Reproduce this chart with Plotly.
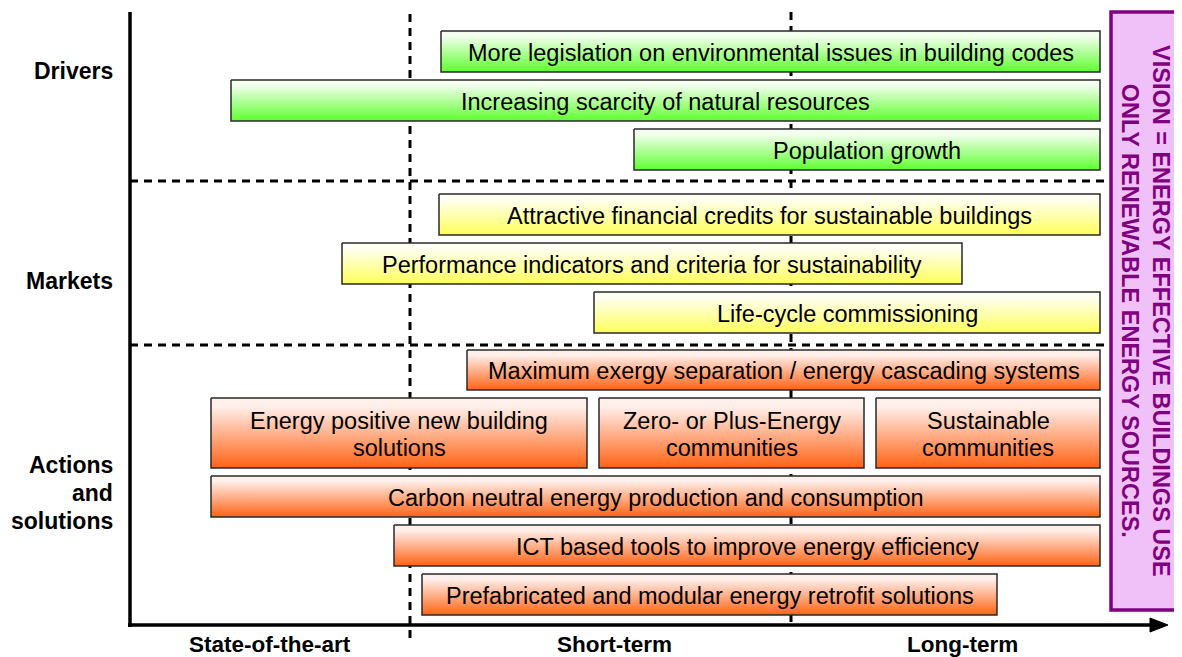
import plotly.graph_objects as go

# ---- data (timeline positions on a 0..1182 scale, rows on a 0..657 scale) ----
bar_labels = [
    "More legislation on environmental issues in building codes",
    "Increasing scarcity of natural resources",
    "Population growth",
    "Attractive financial credits for sustainable buildings",
    "Performance indicators and criteria for sustainability",
    "Life-cycle commissioning",
    "Maximum exergy separation / energy cascading systems",
    "Energy positive new building<br>solutions",
    "Zero- or Plus-Energy<br>communities",
    "Sustainable<br>communities",
    "Carbon neutral energy production and consumption",
    "ICT based tools to improve energy efficiency",
    "Prefabricated and modular energy retrofit solutions",
]
bar_start = [441, 231, 634, 439, 342, 594, 467, 211, 599, 876, 211, 394, 422]
bar_end = [1100, 1100, 1100, 1100, 962, 1100, 1100, 587, 864, 1100, 1100, 1100, 997]
bar_top = [31, 80, 129, 194, 243, 292, 350, 398, 398, 398, 476, 525, 574]
bar_bottom = [72, 121, 170, 235, 284, 333, 390, 468, 468, 468, 517, 566, 615]
bar_group = ["Drivers"] * 3 + ["Markets"] * 3 + ["Actions"] * 7

group_colors = {
    "Drivers": ("#F4FFF0", "#5EFF2E"),
    "Markets": ("#FFFFF4", "#FFFF5A"),
    "Actions": ("#FFF0EC", "#FF6214"),
}

row_labels = ["Drivers", "Markets", "Actions<br>and<br>solutions"]
row_label_y = [71, 281, 493]

phase_labels = ["State-of-the-art", "Short-term", "Long-term"]
phase_label_x = [270, 614, 962]
phase_dividers = [410, 791]
section_dividers = [181, 345]

vision_text = "VISION = ENERGY EFFECTIVE BUILDINGS USE<br>ONLY RENEWABLE ENERGY SOURCES."

FONT = "Liberation Sans, Arial, Helvetica, sans-serif"
BAR_LINE_GAP = 27
LABEL_LINE_GAP = 28

fig = go.Figure()

shapes = []
# phase dividers (vertical dashed)
shapes.append(dict(type="line", xref="x", yref="y", x0=phase_dividers[0], x1=phase_dividers[0],
                   y0=14, y1=641, line=dict(color="black", width=3, dash="8px,6px"), layer="below"))
shapes.append(dict(type="line", xref="x", yref="y", x0=phase_dividers[1], x1=phase_dividers[1],
                   y0=12, y1=625, line=dict(color="black", width=3, dash="8px,6px"), layer="below"))
# section dividers (horizontal dashed)
for yv in section_dividers:
    shapes.append(dict(type="line", xref="x", yref="y", x0=130, x1=1108, y0=yv, y1=yv,
                       line=dict(color="black", width=3, dash="8px,6px"), layer="below"))

# bars with vertical gradient
for lab, x0, x1, y0, y1, g in zip(bar_labels, bar_start, bar_end, bar_top, bar_bottom, bar_group):
    top_c, bot_c = group_colors[g]
    fig.add_trace(go.Scatter(
        x=[x0, x1, x1, x0, x0], y=[y0, y0, y1, y1, y0],
        mode="lines", fill="toself",
        fillgradient=dict(type="vertical", start=y0, stop=y1,
                          colorscale=[[0, top_c], [0.12, top_c], [1, bot_c]]),
        line=dict(color="#2a2a2a", width=1.5),
        hoverinfo="skip", showlegend=False,
    ))

annotations = []
for lab, x0, x1, y0, y1 in zip(bar_labels, bar_start, bar_end, bar_top, bar_bottom):
    lines = lab.split("<br>")
    n = len(lines)
    yc = (y0 + y1) / 2 + 1
    for i, ln in enumerate(lines):
        annotations.append(dict(x=(x0 + x1) / 2, y=yc + (i - (n - 1) / 2) * BAR_LINE_GAP,
                                xref="x", yref="y", text=ln, showarrow=False,
                                font=dict(family=FONT, size=23.5, color="black"), align="center"))

# axes
shapes.append(dict(type="line", xref="x", yref="y", x0=130, x1=130, y0=12, y1=627,
                   line=dict(color="black", width=3.5)))
shapes.append(dict(type="line", xref="x", yref="y", x0=128, x1=1152, y0=625, y1=625,
                   line=dict(color="black", width=3.5)))
shapes.append(dict(type="path", xref="x", yref="y", path="M 1150 618 L 1168 625 L 1150 632 Z",
                   fillcolor="black", line=dict(color="black", width=1)))

# vision box
shapes.append(dict(type="rect", xref="x", yref="y", x0=1111, x1=1179, y0=12, y1=610,
                   fillcolor="#F0C0F8", line=dict(color="#800080", width=3.5)))
annotations.append(dict(x=1146, y=311, xref="x", yref="y", text="<b>" + vision_text + "</b>",
                        showarrow=False, textangle=90,
                        font=dict(family=FONT, size=23.5, color="#800080"), align="center"))

for lab, yv in zip(row_labels, row_label_y):
    lines = lab.split("<br>")
    n = len(lines)
    for i, ln in enumerate(lines):
        annotations.append(dict(x=115, y=yv + (i - (n - 1) / 2) * LABEL_LINE_GAP, xref="x", yref="y",
                                text="<b>" + ln + "</b>", showarrow=False, xanchor="right",
                                align="right", font=dict(family=FONT, size=23, color="black")))
for lab, xv in zip(phase_labels, phase_label_x):
    annotations.append(dict(x=xv, y=644, xref="x", yref="y", text="<b>" + lab + "</b>",
                            showarrow=False, font=dict(family=FONT, size=22.5, color="black")))

# page has an 8px body margin: map data units 1:1 onto window pixels
fig.update_layout(
    width=1174, height=649,
    margin=dict(l=0, r=0, t=0, b=0),
    paper_bgcolor="white", plot_bgcolor="white",
    xaxis=dict(range=[8, 1182], visible=False, fixedrange=True),
    yaxis=dict(range=[657, 8], visible=False, fixedrange=True),
    shapes=shapes, annotations=annotations, showlegend=False,
)

fig.write_html("out.html")
